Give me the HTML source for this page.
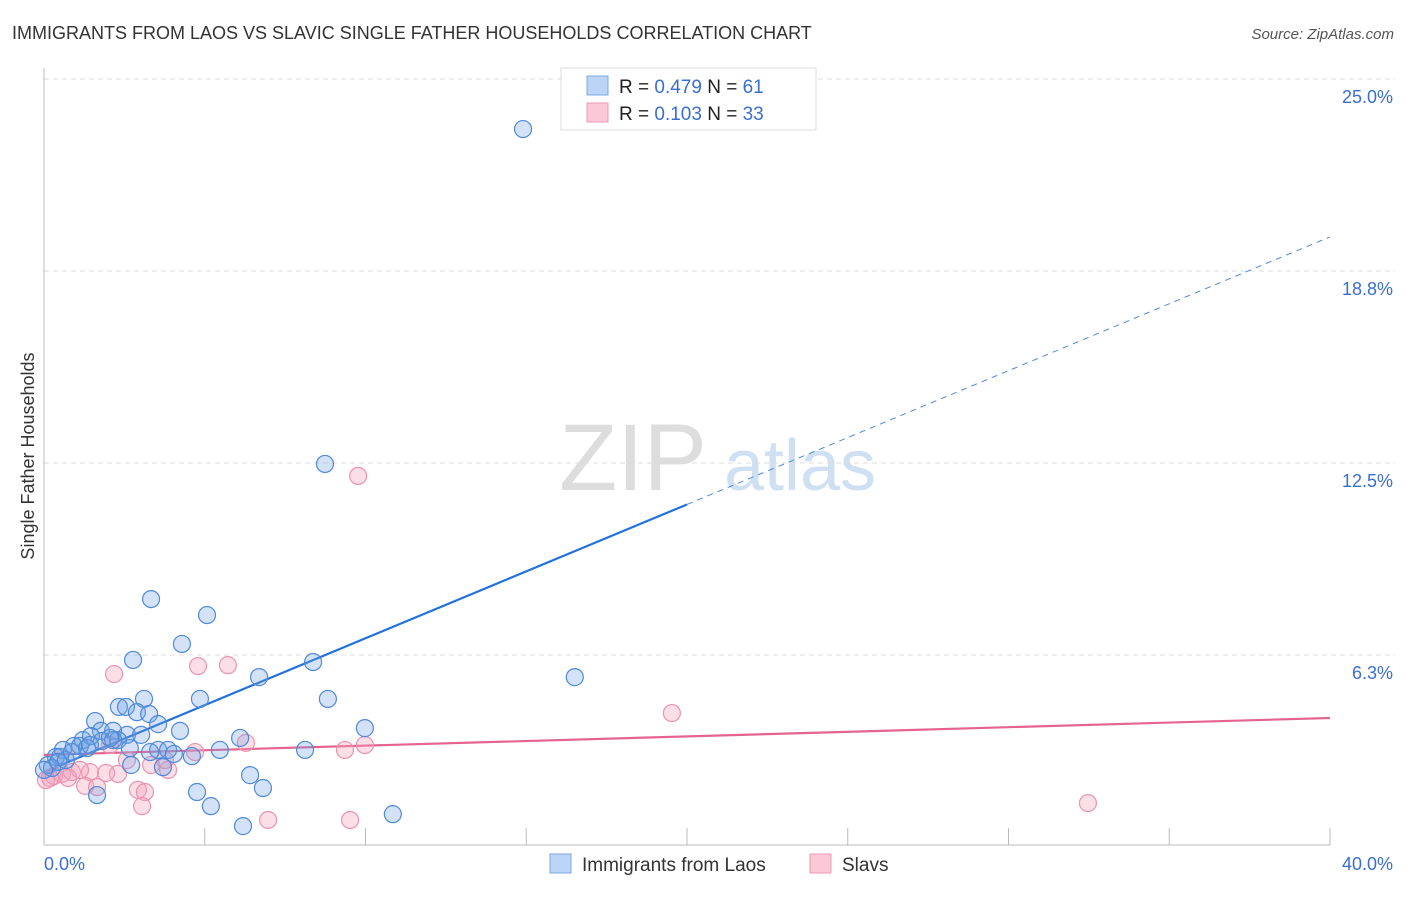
<!DOCTYPE html>
<html><head><meta charset="utf-8"><style>
body{margin:0;background:#fff;font-family:"Liberation Sans",sans-serif;}
svg text{font-family:"Liberation Sans",sans-serif;}
</style></head><body>
<svg width="1406" height="892" viewBox="0 0 1406 892" xmlns="http://www.w3.org/2000/svg">
<text x="12" y="39" font-size="18" fill="#333">IMMIGRANTS FROM LAOS VS SLAVIC SINGLE FATHER HOUSEHOLDS CORRELATION CHART</text>
<text x="1394" y="39" font-size="15" fill="#555" font-style="italic" text-anchor="end">Source: ZipAtlas.com</text>
<text x="34" y="456" font-size="18" fill="#333" text-anchor="middle" transform="rotate(-90 34 456)">Single Father Households</text>
<g><text x="633" y="490" font-size="95" fill="#ddd" font-family="Liberation Serif" text-anchor="middle">ZIP</text><text x="800" y="490" font-size="72" fill="#cfe0f2" text-anchor="middle">atlas</text></g>
<g id="grid"></g><g id="axes"></g><g id="lines"></g><g id="pts"></g>
<g>
<rect x="561" y="68" width="255" height="62" fill="#fff" stroke="#ddd"/>
<rect x="587" y="76" width="21" height="19" fill="#bcd4f5" stroke="#7aa7e6"/>
<rect x="587" y="103" width="21" height="19" fill="#fac8d6" stroke="#ee9ab5"/>
<text x="619" y="93" font-size="19" fill="#222">R = <tspan fill="#3a6fd0">0.479</tspan>   N = <tspan fill="#3a6fd0"> 61</tspan></text>
<text x="619" y="120" font-size="19" fill="#222">R = <tspan fill="#3a6fd0"> 0.103</tspan>   N = <tspan fill="#3a6fd0">33</tspan></text>
</g>
<g>
<rect x="550" y="854" width="21" height="19" fill="#bcd4f5" stroke="#7aa7e6"/>
<text x="582" y="871" font-size="19" fill="#333">Immigrants from Laos</text>
<rect x="810" y="854" width="21" height="19" fill="#fac8d6" stroke="#ee9ab5"/>
<text x="842" y="871" font-size="19" fill="#333">Slavs</text>
</g>
</svg>
<script>
const xTicks=[5,10,15,20,25,30,35,40];
const yTicks=[6.25,12.5,18.75,25];
const yTickLabels=["6.3%","12.5%","18.8%","25.0%"];
const xEndLabels=["0.0%","40.0%"];
const laosX=[14.90,8.74,3.33,5.07,4.29,2.77,8.37,6.69,16.51,8.83,4.85,3.11,2.33,2.55,2.89,3.27,1.59,3.55,9.98,4.23,1.77,2.15,2.58,3.02,2.30,1.21,1.46,6.10,1.80,0.93,1.12,0.59,3.55,3.86,5.47,8.12,2.67,4.04,4.60,2.15,1.34,0.37,0.50,0.12,0.25,0.00,2.71,3.70,6.41,4.76,6.81,1.65,5.19,10.85,6.19,0.44,0.68,0.87,1.43,2.05,3.30];
const laosY=[23.37,12.47,8.07,7.55,6.61,6.09,6.02,5.53,5.53,4.82,4.82,4.82,4.56,4.56,4.39,4.33,4.10,4.00,3.87,3.78,3.78,3.78,3.65,3.65,3.48,3.48,3.61,3.55,3.45,3.29,3.29,3.16,3.16,3.16,3.16,3.16,3.22,3.03,2.96,3.48,3.22,2.93,2.93,2.67,2.57,2.51,2.67,2.60,2.34,1.79,1.92,1.69,1.33,1.07,0.68,2.77,2.83,3.09,3.32,3.55,3.09];
const slavsX=[9.77,2.18,4.79,5.72,19.53,6.28,4.70,9.98,9.36,3.33,3.86,1.43,2.30,1.93,2.58,0.56,0.87,1.12,0.19,0.31,1.28,2.92,3.14,3.05,1.65,32.47,6.97,9.52,2.05,3.76,0.75,0.06];
const slavsY=[12.08,5.63,5.89,5.92,4.36,3.39,3.09,3.32,3.16,2.67,2.51,2.44,2.38,2.41,2.83,2.38,2.44,2.51,2.25,2.31,1.99,1.86,1.79,1.33,1.95,1.43,0.88,0.88,3.32,2.83,2.25,2.18];
const laosTrend=[2.44,19.86]; // y at x=0 and x=40
const slavsTrend=[3.0,4.2];
const X0=44,X1=1330,Y0=847,YPX=30.72;
const sx=v=>X0+(v/40)*(X1-X0), sy=v=>Y0-v*YPX;
const NS="http://www.w3.org/2000/svg";
function mk(parent,tag,attrs){const e=document.createElementNS(NS,tag);for(const k in attrs)e.setAttribute(k,attrs[k]);document.getElementById(parent).appendChild(e);return e;}
yTicks.forEach((t,i)=>{
 const g=mk('grid','line',{x1:X0,x2:1395,y1:sy(t),y2:sy(t),stroke:'#ddd','stroke-dasharray':'5,4'});
 
 
 const l=mk('grid','text',{x:1393,y:sy(t)+24,'font-size':18,fill:'#3a6fd0','text-anchor':'end'});
 l.textContent=yTickLabels[i];
 
 
});
const ax=mk('axes','line',{x1:X0,x2:X1,y1:845,y2:845,stroke:'#bbb'});


const ay=mk('axes','line',{x1:X0,x2:X0,y1:68,y2:845,stroke:'#bbb'});


xTicks.forEach(t=>{
 const k=mk('axes','line',{x1:sx(t),x2:sx(t),y1:828,y2:845,stroke:'#bbb'});
 
 
});
const xl0=mk('axes','text',{x:44,y:870,'font-size':18,fill:'#3a6fd0'});xl0.textContent=xEndLabels[0];


const xl1=mk('axes','text',{x:1393,y:870,'font-size':18,fill:'#3a6fd0','text-anchor':'end'});xl1.textContent=xEndLabels[1];


function pts(xs,ys,fill,stroke,name){xs.forEach((x,i)=>{
 const c=mk('pts','circle',{cx:sx(x),cy:sy(ys[i]),r:8.5,fill:fill,stroke:stroke,'stroke-width':1.2});
 
 
});}
pts(slavsX,slavsY,'rgba(245,160,185,0.35)','#ec93b0','point-slavs');
pts(laosX,laosY,'rgba(110,160,230,0.3)','#4f8ad9','point-laos');
const bsplit=20;
const bt=x=>laosTrend[0]+(laosTrend[1]-laosTrend[0])*x/40;
const l1=mk('lines','line',{x1:sx(0),y1:sy(bt(0)),x2:sx(bsplit),y2:sy(bt(bsplit)),stroke:'#2471d9','stroke-width':2.2});


const l2=mk('lines','line',{x1:sx(bsplit),y1:sy(bt(bsplit)),x2:sx(40),y2:sy(bt(40)),stroke:'#4f8ad9','stroke-width':1,'stroke-dasharray':'6,5'});


const l3=mk('lines','line',{x1:sx(0),y1:sy(slavsTrend[0]),x2:sx(40),y2:sy(slavsTrend[1]),stroke:'#e5648f','stroke-width':2.2});


</script>
</body></html>
